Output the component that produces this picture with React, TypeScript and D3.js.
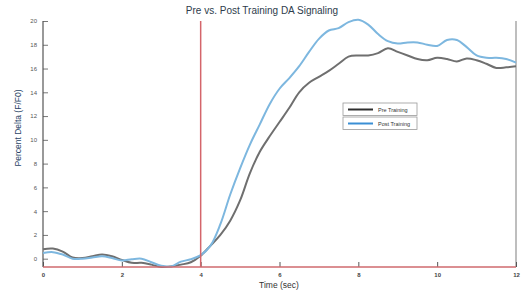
import React, { useRef, useEffect } from "react";
import * as d3 from "d3";

// time samples (sec), every 0.25 s
const times = d3.range(0, 12.001, 0.25);

const preTraining = [
  0.8, 0.85, 0.6, 0.1, 0.05, 0.2, 0.35, 0.2, -0.1, -0.35, -0.35, -0.5, -0.7,
  -0.65, -0.5, -0.3, 0.25, 1.1, 2.0, 3.2, 4.9, 7.2, 9.0, 10.3, 11.5, 12.7, 14.0,
  14.8, 15.3, 15.8, 16.4, 17.0, 17.1, 17.1, 17.3, 17.7, 17.4, 17.1, 16.8, 16.7,
  16.9, 16.8, 16.6, 16.85, 16.7, 16.4, 16.05, 16.1, 16.2,
];

const postTraining = [
  0.47, 0.55, 0.35, 0.0, 0.0, 0.1, 0.2, 0.05, -0.15, -0.05, 0.0, -0.3, -0.6,
  -0.65, -0.25, -0.05, 0.3, 1.1, 2.9, 5.4, 7.6, 9.6, 11.3, 13.0, 14.3, 15.2,
  16.2, 17.4, 18.5, 19.2, 19.4, 19.9, 20.1, 19.7, 18.9, 18.3, 18.1, 18.2, 18.2,
  18.0, 17.9, 18.4, 18.4, 17.8, 17.1, 16.9, 16.9, 16.8, 16.5,
];

const yTicks = [0, 2, 4, 6, 8, 10, 12, 14, 16, 18, 20];
const xTicks = [0, 2, 4, 6, 8, 10, 12];
const stimTime = 4;

const seriesList = [
  { name: "Pre Training", values: preTraining, color: "#6f6f6f", legend: "#2e2e2e" },
  { name: "Post Training", values: postTraining, color: "#7db7df", legend: "#3a8fd4" },
];

const W = 524;
const H = 291;

const App = () => {
  const svgRef = useRef<SVGSVGElement>(null);

  useEffect(() => {
    const margin = { top: 20, right: 8, bottom: 24, left: 43 };
    const svg = d3.select(svgRef.current);
    svg.selectAll("*").remove();

    const x = d3.scaleLinear().domain([0, 12]).range([margin.left, W - margin.right]);
    const y = d3.scaleLinear().domain([-0.7, 20]).range([H - margin.bottom, margin.top + 1]);
    const yBottom = H - margin.bottom;
    const font = "Liberation Sans, Arial, sans-serif";

    // title
    svg
      .append("text")
      .attr("x", 262)
      .attr("y", 14)
      .attr("text-anchor", "middle")
      .attr("font-family", font)
      .attr("font-size", 10)
      .attr("fill", "#2d3c4c")
      .text("Pre vs. Post Training DA Signaling");

    // y axis
    const yAxis = svg
      .append("g")
      .attr("transform", `translate(${margin.left},0)`)
      .call(d3.axisRight(y).tickValues(yTicks).tickSize(5).tickFormat(d3.format("d")));
    yAxis.select(".domain").remove();
    yAxis.selectAll(".tick line").attr("stroke", "#777");
    yAxis
      .selectAll(".tick text")
      .attr("x", -6)
      .attr("text-anchor", "end")
      .attr("font-family", font)
      .attr("font-size", 6)
      .attr("fill", "#555");
    svg
      .append("line")
      .attr("x1", margin.left)
      .attr("x2", margin.left)
      .attr("y1", y(20))
      .attr("y2", yBottom)
      .attr("stroke", "#555")
      .attr("stroke-width", 1.2);

    // right frame line
    svg
      .append("line")
      .attr("x1", x(12))
      .attr("x2", x(12))
      .attr("y1", y(20))
      .attr("y2", yBottom)
      .attr("stroke", "#a8a8a8")
      .attr("stroke-width", 1.5);

    // x axis
    const xAxis = svg
      .append("g")
      .attr("transform", `translate(0,${yBottom})`)
      .call(d3.axisTop(x).tickValues(xTicks).tickSize(5).tickFormat(d3.format("d")));
    xAxis.select(".domain").remove();
    xAxis.selectAll(".tick line").attr("stroke", "#555");
    xAxis
      .selectAll(".tick text")
      .attr("y", 10)
      .attr("dy", 0)
      .attr("font-family", font)
      .attr("font-size", 6)
      .attr("font-weight", "bold")
      .attr("fill", "#444");

    // axis labels
    svg
      .append("text")
      .attr("transform", `translate(21,${128}) rotate(-90)`)
      .attr("text-anchor", "middle")
      .attr("font-family", font)
      .attr("font-size", 8.5)
      .attr("fill", "#2a4466")
      .text("Percent Delta (F/F0)");
    svg
      .append("text")
      .attr("x", 279)
      .attr("y", 288)
      .attr("text-anchor", "middle")
      .attr("font-family", font)
      .attr("font-size", 8.5)
      .attr("fill", "#333")
      .text("Time (sec)");

    // lines
    const line = d3
      .line<number>()
      .x((_, i) => x(times[i]))
      .y((d) => y(d))
      .curve(d3.curveCatmullRom.alpha(0.5));

    seriesList.forEach((s) => {
      svg
        .append("path")
        .datum(s.values)
        .attr("fill", "none")
        .attr("stroke", s.color)
        .attr("stroke-width", 2)
        .attr("d", line);
    });

    // stimulus marker and red baseline
    svg
      .append("line")
      .attr("x1", x(stimTime))
      .attr("x2", x(stimTime))
      .attr("y1", y(20))
      .attr("y2", yBottom)
      .attr("stroke", "#d4656b")
      .attr("stroke-width", 1.5);
    svg
      .append("line")
      .attr("x1", margin.left)
      .attr("x2", x(12))
      .attr("y1", yBottom)
      .attr("y2", yBottom)
      .attr("stroke", "#cf6a6e")
      .attr("stroke-width", 1.5);

    // legend
    const legend = svg.append("g").attr("transform", "translate(343,103)");
    seriesList.forEach((s, i) => {
      const g = legend.append("g").attr("transform", `translate(0,${i * 14})`);
      g.append("rect")
        .attr("width", 74)
        .attr("height", 12.5)
        .attr("fill", "white")
        .attr("stroke", "#9a9a9a")
        .attr("stroke-width", 0.8);
      g.append("line")
        .attr("x1", 5)
        .attr("x2", 30)
        .attr("y1", 6.5)
        .attr("y2", 6.5)
        .attr("stroke", s.legend)
        .attr("stroke-width", 2);
      g.append("text")
        .attr("x", 35)
        .attr("y", 8.5)
        .attr("font-family", font)
        .attr("font-size", 5.5)
        .attr("fill", "#333")
        .text(s.name);
    });
  }, []);

  return (
    <svg
      ref={svgRef}
      width={W}
      height={H}
      style={{ position: "absolute", left: 0, top: 0, background: "white" }}
    ></svg>
  );
};

export default App;
